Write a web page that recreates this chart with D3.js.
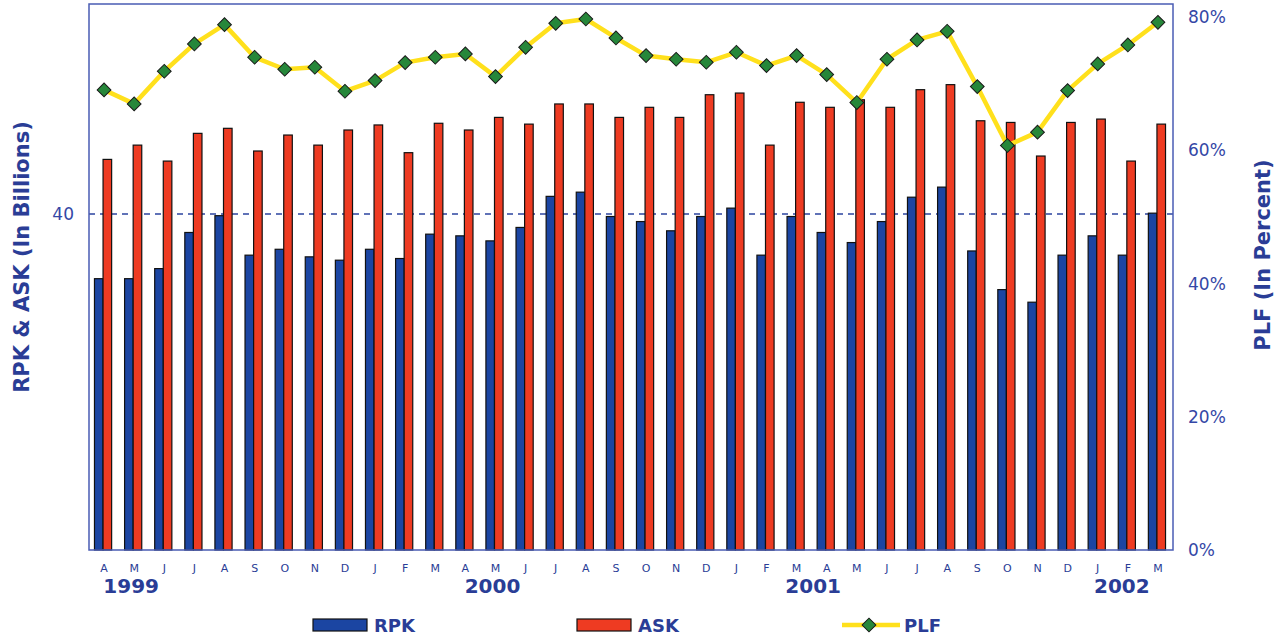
<!DOCTYPE html>
<html lang="en">
<head>
    <meta charset="UTF-8">
    <title>RPK ASK PLF</title>
    <script src="https://cdnjs.cloudflare.com/ajax/libs/d3/7.8.5/d3.min.js"></script>
    <style>
        body { margin: 0; background: #fff; }
    </style>
</head>
<body>
    <div id="wrapper"></div>
    <script>
        // data (Apr 1999 - Mar 2002)
        const months = ["A","M","J","J","A","S","O","N","D",
            "J","F","M","A","M","J","J","A","S","O","N","D",
            "J","F","M","A","M","J","J","A","S","O","N","D",
            "J","F","M"]
        const rpk = [32.3,32.3,33.5,37.8,39.8,35.1,35.8,34.9,34.5,35.8,34.7,37.6,
            37.4,36.8,38.4,42.1,42.6,39.7,39.1,38.0,39.7,40.7,35.1,39.7,
            37.8,36.6,39.1,42.0,43.2,35.6,31.0,29.5,35.1,37.4,35.1,40.1]
        const ask = [46.5,48.2,46.3,49.6,50.2,47.5,49.4,48.2,50.0,50.6,47.3,50.8,
            50.0,51.5,50.7,53.1,53.1,51.5,52.7,51.5,54.2,54.4,48.2,53.3,
            52.7,53.6,52.7,54.8,55.4,51.1,50.9,46.9,50.9,51.3,46.3,50.7]
        const plf = [69.1,67.0,71.9,76.0,78.9,74.0,72.2,72.5,68.9,70.5,73.2,74.0,
            74.5,71.1,75.5,79.1,79.75,76.9,74.25,73.7,73.25,74.75,72.75,74.25,
            71.4,67.2,73.7,76.6,77.9,69.6,60.75,62.75,69.0,73.0,75.85,79.25]
        const years = ["1999","2000","2001","2002"]
        const yearAt = [0.9, 12.9, 23.55, 33.8]   // month index the year label sits on
        const leftTicks = [40]
        const rightTicks = [0, 20, 40, 60, 80]
        const seriesNames = ["RPK", "ASK", "PLF"]

        const colors = { RPK: '#1b45a2', ASK: '#ee3b22', PLF: '#ffe01c', marker: '#26873a' }
        const textBlue = '#2a3d96'

        const dims = {
            width: 1284, height: 638,
            margin: { top: 4, right: 111, bottom: 88, left: 89 }
        }
        dims.boundedWidth = dims.width - dims.margin.left - dims.margin.right
        dims.boundedHeight = dims.height - dims.margin.top - dims.margin.bottom

        const svg = d3.select('#wrapper').append('svg')
            .attr('width', dims.width)
            .attr('height', dims.height)
            .style('font-family', '"DejaVu Sans", Verdana, sans-serif')

        const bounds = svg.append('g')
            .attr('transform', `translate(${dims.margin.left},${dims.margin.top})`)

        const idx = d3.range(months.length)
        const x0 = d3.scaleBand()
            .domain(idx)
            .range([0, dims.boundedWidth])
            .paddingInner(0.43)
            .paddingOuter(0.215)
        const x1 = d3.scaleBand()
            .domain(["RPK", "ASK"])
            .range([0, x0.bandwidth()])
        const center = i => x0(i) + x0.bandwidth() / 2
        const xIdx = d3.scaleLinear()
            .domain([0, months.length - 1])
            .range([center(0), center(months.length - 1)])

        const yL = d3.scaleLinear().domain([0, 65]).range([dims.boundedHeight, 0])
        const yR = d3.scaleLinear().domain([0, 82]).range([dims.boundedHeight, 0])

        // dashed reference line at 40
        bounds.selectAll('.ref')
            .data(leftTicks)
            .join('line')
            .attr('x1', 0).attr('x2', dims.boundedWidth + 4)
            .attr('y1', d => yL(d)).attr('y2', d => yL(d))
            .attr('stroke', '#2c44a0')
            .attr('stroke-width', 1.5)
            .attr('stroke-dasharray', '6,5')

        // bars
        const rows = idx.map(i => ({ i, RPK: rpk[i], ASK: ask[i] }))
        const groups = bounds.selectAll('.grp')
            .data(rows)
            .join('g')
            .attr('transform', d => `translate(${x0(d.i) - 1},0)`)
        groups.selectAll('rect')
            .data(d => ["RPK", "ASK"].map(k => ({ k, v: d[k] })))
            .join('rect')
            .attr('x', d => x1(d.k))
            .attr('y', d => yL(d.v))
            .attr('width', x1.bandwidth())
            .attr('height', d => dims.boundedHeight - yL(d.v))
            .attr('fill', d => colors[d.k])
            .attr('stroke', '#111')
            .attr('stroke-width', 1.2)

        // PLF line
        const line = d3.line()
            .x(i => center(i))
            .y(i => yR(plf[i]))
        bounds.append('path')
            .attr('d', line(idx))
            .attr('fill', 'none')
            .attr('stroke', colors.PLF)
            .attr('stroke-width', 4.5)
            .attr('stroke-linejoin', 'round')

        const diamond = d3.symbol(d3.symbolSquare, 95)
        bounds.selectAll('.mk')
            .data(idx)
            .join('path')
            .attr('d', diamond)
            .attr('transform', i => `translate(${center(i)},${yR(plf[i])}) rotate(45)`)
            .attr('fill', colors.marker)
            .attr('stroke', '#1a1a1a')
            .attr('stroke-width', 1)

        // frame
        bounds.append('rect')
            .attr('width', dims.boundedWidth)
            .attr('height', dims.boundedHeight)
            .attr('fill', 'none')
            .attr('stroke', '#4a5cb4')
            .attr('stroke-width', 1.5)

        // axes
        const yAxisL = bounds.append('g')
            .call(d3.axisLeft(yL).tickValues(leftTicks).tickSize(0).tickPadding(15))
        const yAxisR = bounds.append('g')
            .attr('transform', `translate(${dims.boundedWidth},0)`)
            .call(d3.axisRight(yR).tickValues(rightTicks).tickFormat(d => d + '%').tickSize(0).tickPadding(15))
        for (const ax of [yAxisL, yAxisR]) {
            ax.select('.domain').remove()
            ax.selectAll('text')
                .attr('fill', '#3447a6')
                .style('font-size', '17px')
                .style('font-family', '"DejaVu Sans", Verdana, sans-serif')
        }

        const xAxis = bounds.append('g')
            .attr('transform', `translate(0,${dims.boundedHeight})`)
            .call(d3.axisBottom(x0).tickFormat(i => months[i]).tickSize(0).tickPadding(14))
        xAxis.select('.domain').remove()
        xAxis.selectAll('text')
            .attr('fill', textBlue)
            .style('font-size', '11px')
            .style('font-family', '"DejaVu Sans", Verdana, sans-serif')

        // year labels
        bounds.selectAll('.year')
            .data(years)
            .join('text')
            .attr('x', (d, k) => xIdx(yearAt[k]))
            .attr('y', dims.boundedHeight + 43)
            .attr('text-anchor', 'middle')
            .attr('fill', textBlue)
            .style('font-size', '20px')
            .style('font-weight', 'bold')
            .text(d => d)

        // axis titles
        svg.append('text')
            .attr('transform', `translate(29,257) rotate(-90)`)
            .attr('text-anchor', 'middle')
            .attr('fill', textBlue)
            .style('font-size', '21px')
            .style('font-weight', 'bold')
            .text('RPK & ASK (In Billions)')
        svg.append('text')
            .attr('transform', `translate(1270,255) rotate(-90)`)
            .attr('text-anchor', 'middle')
            .attr('fill', textBlue)
            .style('font-size', '21px')
            .style('font-weight', 'bold')
            .text('PLF (In Percent)')

        // legend
        const legendX = [313, 577, 842]
        const legend = svg.selectAll('.lg')
            .data(seriesNames)
            .join('g')
            .attr('transform', (d, k) => `translate(${legendX[k]},625)`)
        legend.filter(d => d !== 'PLF').append('rect')
            .attr('x', 0).attr('y', -6)
            .attr('width', 54).attr('height', 12)
            .attr('fill', d => colors[d])
            .attr('stroke', '#111')
            .attr('stroke-width', 1.2)
        const lp = legend.filter(d => d === 'PLF')
        lp.append('line')
            .attr('x1', 0).attr('x2', 58)
            .attr('stroke', colors.PLF)
            .attr('stroke-width', 4.5)
        lp.append('path')
            .attr('d', diamond)
            .attr('transform', 'translate(27,0) rotate(45)')
            .attr('fill', colors.marker)
            .attr('stroke', '#1a1a1a')
        legend.append('text')
            .attr('x', d => d === 'PLF' ? 62 : 61)
            .attr('y', 7)
            .attr('fill', textBlue)
            .style('font-size', '18px')
            .style('font-weight', 'bold')
            .text(d => d)
    </script>
</body>
</html>
